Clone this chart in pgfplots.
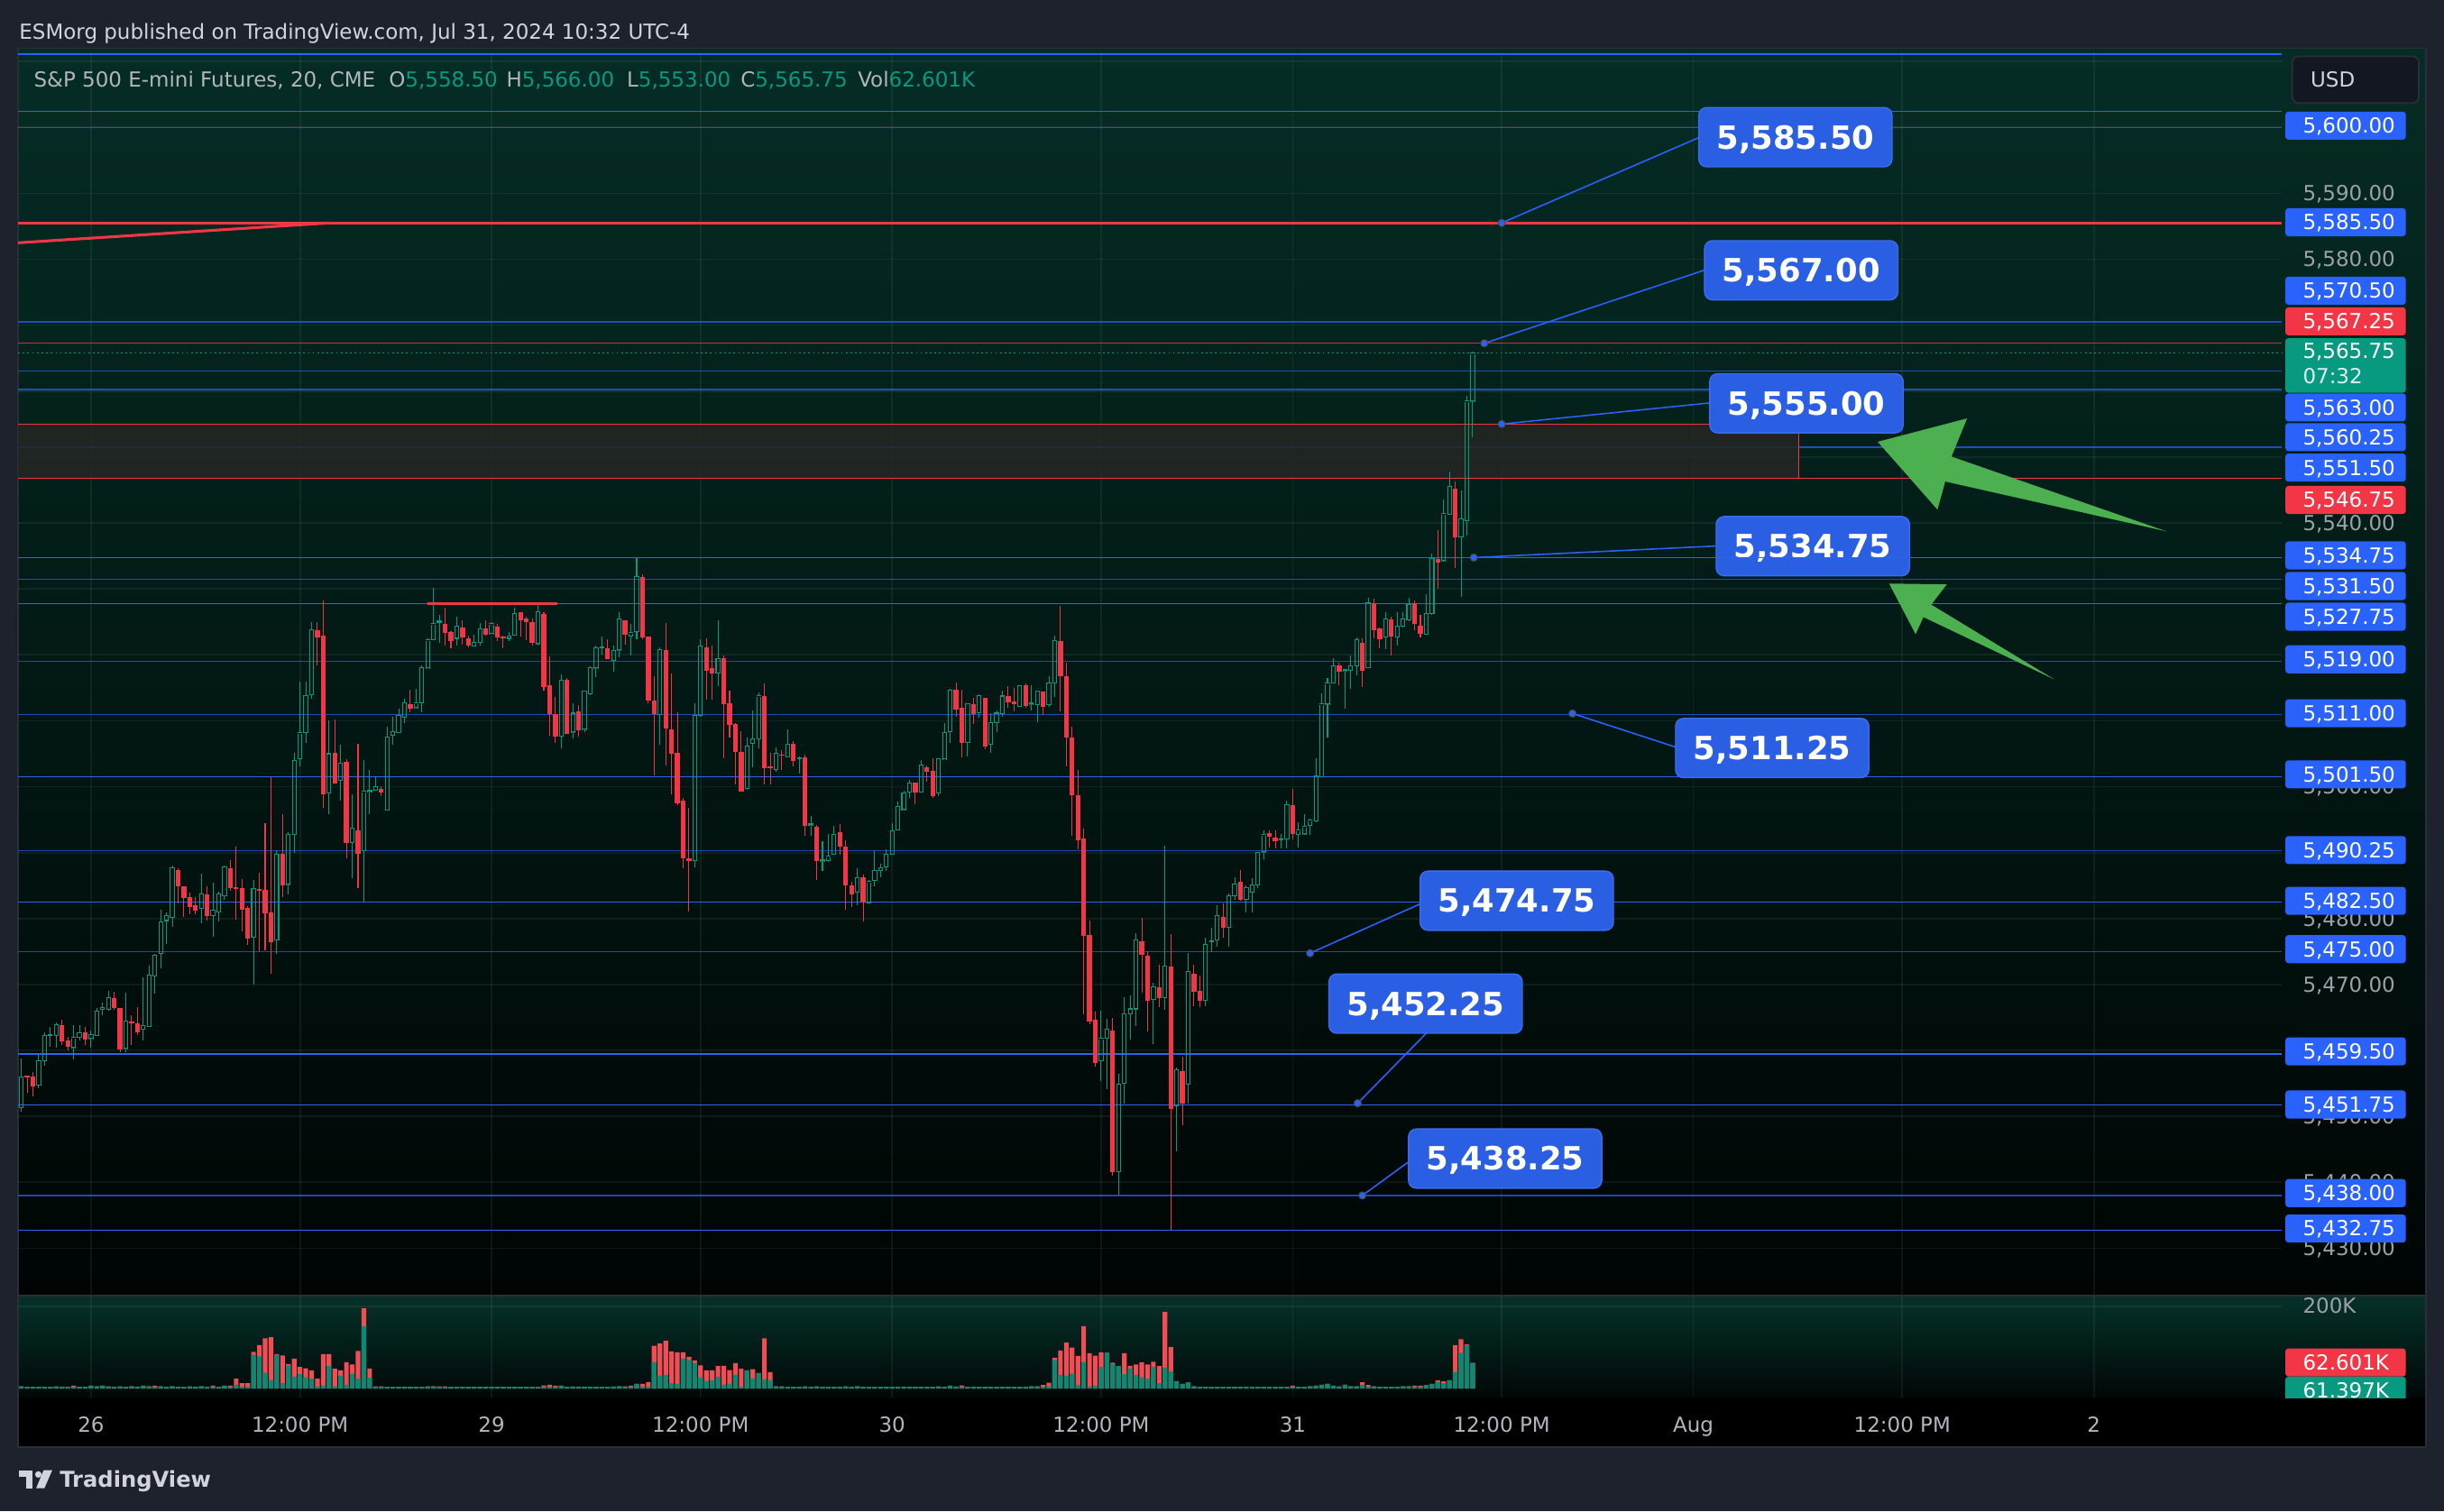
\documentclass[border=0pt]{standalone}
\usepackage{pgfplots}
\pgfplotsset{compat=1.18}
\usepackage{pgfplotstable}
\usepackage{fontspec}
\setmainfont{DejaVu Sans}
\definecolor{outerbg}{HTML}{1E222D}
\definecolor{framegray}{HTML}{2A2E39}
\definecolor{txtgray}{HTML}{D1D4DC}
\definecolor{lblgray}{HTML}{B2B5BE}
\definecolor{tickgray}{HTML}{9DA0A8}
\definecolor{cup}{HTML}{089981}
\definecolor{cdn}{HTML}{F23645}
\definecolor{tvblue}{HTML}{2962FF}
\definecolor{callbox}{HTML}{2B5FE3}
\definecolor{callrim}{HTML}{3A6EF0}
\definecolor{arrowgreen}{HTML}{4CAF50}
\definecolor{paneTop}{RGB}{5,45,37}
\definecolor{paneBot}{RGB}{0,5,4}
\definecolor{volTop}{RGB}{5,50,42}
\definecolor{volBot}{RGB}{1,8,7}
\definecolor{rectfill}{HTML}{262624}
\definecolor{vgreen}{HTML}{0B8A73}
\definecolor{vred}{HTML}{F24C55}
\definecolor{usdbox}{HTML}{131722}
\newcommand\uifont{\fontsize{6.65pt}{8pt}\selectfont}
\newcommand\cofont{\fontsize{10.25pt}{12pt}\selectfont\bfseries}

\pgfplotstableread{
x o h l c
-12 5451.3 5458.8 5450.7 5456.0
-9 5454.8 5459.5 5454.3 5458.5
-8 5458.5 5462.8 5457.7 5462.3
-7 5462.3 5463.6 5460.6 5462.4
-6 5462.3 5464.3 5460.4 5463.9
-3 5460.5 5463.8 5458.6 5462.0
-2 5462.0 5463.8 5461.5 5462.7
0 5461.8 5463.0 5460.4 5462.4
1 5462.3 5466.5 5462.3 5466.0
2 5466.2 5467.2 5465.4 5466.5
3 5466.2 5469.0 5466.1 5468.0
6 5460.3 5468.7 5459.8 5464.5
9 5463.2 5471.1 5461.5 5463.8
10 5463.6 5472.9 5463.6 5471.4
11 5471.3 5474.7 5468.6 5474.5
12 5474.7 5481.3 5472.4 5479.5
13 5479.7 5481.0 5476.1 5480.4
14 5480.2 5488.0 5478.8 5487.7
19 5481.6 5486.8 5479.3 5483.7
21 5480.4 5485.5 5477.2 5481.3
22 5481.0 5484.1 5479.6 5483.7
23 5483.5 5488.0 5482.9 5487.9
28 5477.2 5485.9 5470.0 5484.5
32 5476.8 5490.4 5474.6 5489.75
34 5485.2 5493.1 5483.6 5492.8
35 5492.8 5505.2 5489.9 5504.0
36 5504.3 5516.0 5503.1 5508.2
37 5508.2 5516.0 5506.7 5513.8
38 5513.9 5525.0 5513.3 5523.75
41 5499.1 5510.0 5495.9 5505.0
43 5500.9 5506.3 5497.9 5503.5
45 5491.5 5498.8 5486.1 5493.7
47 5490.35 5504.0 5482.6 5499.3
48 5499.3 5502.5 5495.9 5499.5
49 5499.45 5501.6 5499.45 5500.0
51 5496.45 5509.1 5496.45 5507.5
52 5507.8 5510.55 5506.4 5508.4
53 5508.2 5511.8 5508.2 5510.8
54 5510.5 5513.3 5509.6 5512.75
56 5512.0 5514.8 5511.8 5512.7
57 5512.75 5518.4 5511.3 5518.05
58 5518.0 5522.5 5518.0 5522.3
59 5522.3 5530.1 5522.3 5524.7
60 5524.95 5526.0 5521.8 5525.1
63 5522.5 5525.8 5521.4 5524.3
66 5521.4 5523.0 5521.4 5521.9
67 5521.9 5524.8 5521.4 5524.0
69 5523.2 5525.0 5523.2 5524.7
72 5522.5 5523.5 5522.1 5522.9
73 5523.0 5527.1 5523.0 5526.25
77 5521.7 5527.6 5521.4 5526.5
81 5507.7 5517.0 5505.8 5516.2
83 5508.3 5512.7 5507.3 5511.15
85 5508.7 5514.5 5508.3 5514.5
86 5514.1 5518.3 5513.9 5518.1
87 5518.0 5521.4 5516.6 5521.1
88 5521.1 5522.8 5520.0 5521.2
90 5519.2 5521.4 5517.5 5520.7
91 5520.8 5526.5 5519.6 5525.5
93 5522.9 5524.7 5519.9 5523.4
94 5523.5 5534.7 5522.3 5531.9
98 5511.0 5521.1 5506.4 5520.8
104 5488.8 5512.6 5487.8 5510.8
105 5510.8 5522.3 5510.6 5521.3
108 5517.2 5525.25 5515.3 5519.4
113 5499.7 5507.5 5499.5 5506.2
114 5506.55 5511.5 5502.9 5507.3
115 5507.3 5514.24 5505.8 5513.8
118 5502.6 5506.0 5502.3 5505.1
120 5504.5 5508.7 5504.5 5506.5
122 5504.3 5504.55 5502.05 5504.4
124 5494.3 5495.5 5492.6 5494.4
126 5488.8 5491.8 5487.2 5488.9
127 5488.85 5492.8 5488.6 5489.45
128 5489.75 5494.0 5489.75 5492.7
132 5484.0 5487.7 5482.0 5486.2
134 5482.4 5485.9 5482.25 5485.6
135 5485.75 5490.35 5484.85 5487.35
136 5487.25 5488.3 5486.2 5487.7
137 5487.9 5490.44 5487.2 5489.75
138 5489.75 5494.5 5489.75 5493.3
139 5493.4 5497.8 5493.4 5496.95
140 5496.6 5499.45 5496.4 5499.1
141 5499.2 5501.0 5498.3 5500.55
143 5499.2 5504.0 5499.2 5503.3
146 5499.0 5504.2 5498.6 5504.2
147 5504.2 5509.7 5504.2 5508.2
148 5508.4 5514.9 5506.7 5514.7
151 5506.7 5512.7 5504.6 5512.6
153 5511.2 5513.97 5510.4 5513.8
155 5506.5 5511.2 5505.1 5509.7
156 5509.7 5511.5 5508.3 5511.15
157 5511.1 5514.6 5510.6 5513.75
160 5512.2 5515.4 5512.05 5515.35
162 5512.6 5515.4 5511.5 5512.7
163 5512.5 5514.5 5509.8 5514.5
165 5512.5 5516.8 5512.05 5515.7
166 5515.7 5522.85 5513.6 5522.2
174 5458.5 5466.0 5455.3 5461.85
175 5461.85 5464.8 5454.1 5463.25
177 5441.6 5456.4 5438.1 5454.85
178 5455.05 5468.1 5451.9 5465.5
179 5465.5 5468.4 5461.65 5466.3
180 5466.3 5477.85 5463.75 5476.8
183 5467.75 5470.3 5461.0 5469.6
185 5468.0 5491.1 5466.1 5472.8
187 5451.55 5457.4 5444.7 5457.1
189 5454.85 5474.75 5451.9 5472.0
192 5467.6 5477.1 5466.7 5476.1
193 5476.5 5478.55 5474.9 5476.6
194 5476.8 5482.0 5475.8 5480.5
196 5478.7 5483.8 5475.7 5483.45
197 5483.45 5486.2 5482.8 5485.25
199 5482.9 5485.1 5481.0 5484.7
200 5484.0 5486.1 5481.0 5485.1
201 5485.1 5490.1 5484.6 5490.0
202 5490.15 5493.4 5489.0 5492.75
205 5492.0 5492.8 5490.6 5492.1
206 5492.1 5497.95 5490.6 5497.3
208 5492.8 5494.6 5490.8 5493.4
209 5492.9 5495.8 5492.65 5494.0
210 5494.1 5495.1 5492.65 5494.9
211 5494.8 5504.35 5494.6 5501.6
212 5501.5 5514.2 5501.5 5512.55
213 5512.55 5516.45 5507.4 5515.7
214 5515.7 5519.5 5515.7 5518.3
216 5517.7 5517.75 5511.9 5517.75
217 5517.6 5519.85 5514.8 5518.3
218 5518.3 5522.6 5516.9 5522.35
220 5518.1 5528.7 5518.1 5527.9
223 5522.7 5526.5 5520.9 5525.5
225 5522.7 5526.5 5521.45 5524.4
226 5524.4 5526.5 5524.1 5525.5
227 5525.35 5528.6 5525.1 5527.6
230 5523.1 5529.25 5523.1 5526.2
231 5526.2 5535.3 5526.1 5534.6
233 5534.3 5543.6 5534.2 5541.4
234 5541.25 5547.8 5541.25 5545.5
236 5537.9 5544.9 5528.8 5540.6
237 5540.4 5559.25 5538.1 5558.5
238 5558.5 5566.0 5553.0 5565.75
}\upT

\pgfplotstableread{
x o h l c
-11 5456.1 5456.2 5453.7 5456.0
-10 5456.1 5456.8 5453.1 5454.7
-5 5464.0 5464.8 5461.0 5461.5
-4 5461.5 5462.1 5460.1 5460.5
-1 5462.8 5463.6 5461.0 5461.8
4 5468.0 5469.0 5466.3 5466.5
5 5466.5 5466.5 5459.8 5460.2
7 5464.4 5465.4 5460.9 5464.2
8 5464.2 5466.6 5462.4 5462.9
15 5487.5 5487.7 5482.4 5485.0
16 5485.0 5485.0 5480.3 5483.2
17 5483.3 5484.1 5480.8 5481.9
18 5482.0 5483.2 5480.6 5481.2
20 5483.7 5485.0 5479.9 5480.4
24 5487.7 5488.8 5484.1 5484.7
25 5484.8 5491.0 5479.9 5484.6
26 5484.6 5486.1 5478.2 5481.3
27 5481.6 5482.0 5476.1 5477.0
29 5484.6 5487.0 5475.2 5484.3
30 5484.5 5494.5 5475.2 5481.0
31 5481.0 5501.6 5471.8 5476.5
33 5489.75 5495.8 5483.2 5485.0
39 5523.75 5525.0 5518.5 5522.75
40 5523.0 5528.3 5496.8 5499.0
42 5505.2 5510.3 5500.6 5500.6
44 5503.7 5504.3 5489.3 5491.5
46 5493.5 5506.6 5484.75 5490.0
50 5499.75 5500.1 5498.6 5499.3
55 5512.75 5514.8 5511.3 5512.0
61 5524.7 5527.2 5521.4 5523.4
62 5523.5 5523.8 5521.1 5522.2
64 5524.3 5525.3 5521.5 5522.75
65 5522.5 5522.9 5521.1 5521.4
68 5524.0 5525.35 5523.0 5523.1
70 5524.4 5524.8 5522.1 5522.75
71 5522.75 5523.0 5521.1 5522.5
74 5526.5 5526.5 5522.8 5525.25
75 5525.6 5525.9 5522.3 5525.0
76 5525.0 5525.6 5521.5 5521.8
78 5526.25 5526.5 5514.6 5515.2
79 5515.5 5519.8 5507.8 5511.0
80 5511.0 5513.6 5506.6 5507.7
82 5516.3 5516.6 5508.1 5508.1
84 5511.5 5512.4 5507.6 5508.6
89 5521.1 5522.3 5519.3 5519.4
92 5525.25 5525.25 5521.5 5523.1
95 5531.9 5532.3 5522.5 5522.7
96 5522.8 5522.8 5512.7 5513.15
97 5513.05 5516.8 5501.8 5511.0
99 5520.8 5525.0 5503.4 5508.95
100 5508.8 5517.2 5498.85 5505.1
101 5505.1 5511.2 5497.1 5497.4
102 5497.85 5498.5 5487.8 5489.2
103 5489.25 5496.8 5481.1 5488.8
106 5521.3 5522.6 5513.3 5517.75
107 5518.1 5521.5 5513.3 5517.2
109 5519.6 5519.9 5504.3 5512.6
110 5512.75 5514.7 5507.6 5509.5
111 5509.55 5509.8 5500.6 5505.4
112 5505.45 5508.5 5499.4 5499.4
116 5513.8 5515.7 5500.4 5502.95
117 5503.1 5505.2 5500.4 5503.0
119 5504.9 5505.5 5502.5 5504.8
121 5506.6 5507.0 5503.3 5503.9
123 5504.55 5504.8 5492.6 5494.2
125 5494.0 5494.3 5485.9 5488.75
129 5493.1 5494.3 5489.75 5490.9
130 5491.0 5491.95 5481.35 5485.2
131 5485.1 5485.6 5481.8 5483.7
133 5486.25 5486.8 5479.6 5482.4
142 5500.7 5500.7 5497.4 5499.2
144 5503.05 5503.3 5500.8 5502.4
145 5502.5 5504.2 5498.3 5498.7
149 5514.7 5515.7 5510.6 5511.7
150 5512.0 5514.8 5504.6 5506.7
152 5512.6 5513.5 5509.65 5511.1
154 5513.5 5513.5 5505.8 5506.2
158 5513.8 5515.35 5512.05 5512.9
159 5512.9 5515.0 5511.5 5512.5
161 5515.4 5515.7 5512.05 5512.2
164 5514.5 5514.5 5510.9 5512.2
167 5522.2 5527.5 5511.5 5516.9
168 5516.9 5519.0 5503.3 5507.5
169 5507.5 5509.1 5492.5 5498.8
170 5498.8 5502.7 5490.6 5491.9
171 5492.2 5493.7 5465.5 5477.4
172 5477.5 5479.8 5464.1 5464.4
173 5464.8 5466.0 5457.7 5458.15
176 5463.1 5465.1 5441.2 5441.6
181 5476.6 5480.1 5468.8 5474.55
182 5474.55 5475.3 5463.1 5467.75
184 5469.6 5473.1 5466.7 5468.0
186 5472.8 5477.6 5432.75 5451.2
188 5457.0 5459.1 5448.7 5452.0
190 5471.7 5473.0 5466.7 5469.0
191 5469.0 5471.5 5466.7 5467.6
195 5480.3 5482.4 5477.3 5478.7
198 5485.55 5487.45 5482.8 5482.8
203 5493.1 5493.4 5490.8 5492.5
204 5492.25 5493.4 5490.6 5491.7
207 5497.3 5499.7 5492.1 5492.9
215 5518.45 5518.95 5515.4 5517.45
219 5522.0 5522.6 5515.1 5517.7
221 5527.9 5528.7 5522.6 5523.85
222 5524.1 5524.3 5521.1 5522.45
224 5525.5 5525.8 5519.95 5522.85
228 5527.9 5528.3 5523.7 5524.7
229 5524.4 5526.25 5522.85 5523.3
232 5534.55 5539.1 5530.15 5534.0
235 5545.2 5546.4 5533.2 5537.9
}\dnT

\pgfplotstableread{
x t g
-12 5.8 5.8
-11 4.4 4.4
-10 4.4 4.4
-9 4.4 4.4
-8 4.4 4.4
-7 4.4 4.4
-6 5.8 4.4
-5 4.4 4.4
-4 4.4 4.4
-3 7.3 4.4
-2 4.4 4.4
-1 4.4 4.4
0 7.3 7.3
1 5.8 5.8
2 7.3 7.3
3 5.8 4.4
4 4.4 4.4
5 5.8 4.4
6 4.4 4.4
7 5.8 5.8
8 4.4 4.4
9 7.3 7.3
10 5.8 5.8
11 7.3 4.4
12 5.8 5.8
13 4.4 4.4
14 5.8 5.8
15 4.4 4.4
16 4.4 4.4
17 5.8 4.4
18 4.4 4.4
19 5.8 5.8
20 4.4 4.4
21 7.3 4.4
22 4.4 4.4
23 7.3 7.3
24 7.3 4.4
25 24.1 9.5
26 13.1 4.4
27 13.1 4.4
28 89.8 82.5
29 105.9 78.8
30 122.6 38.7
31 125.6 20.4
32 84.0 81.8
33 81.0 13.1
34 59.9 56.9
35 73.0 29.2
36 52.6 35.0
37 49.6 27.7
38 44.5 24.1
39 24.1 5.8
40 84.0 7.3
41 84.0 55.5
42 48.2 5.8
43 44.5 31.4
44 64.2 9.5
45 59.1 36.5
46 92.0 24.1
47 195.6 151.8
48 48.9 26.3
49 5.8 4.4
50 5.8 4.4
51 4.4 4.4
52 4.4 4.4
53 4.4 4.4
54 4.4 4.4
55 4.4 4.4
56 4.4 4.4
57 4.4 4.4
58 5.8 4.4
59 5.8 5.8
60 5.8 4.4
61 5.8 4.4
62 4.4 4.4
63 4.4 4.4
64 4.4 4.4
65 4.4 4.4
66 4.4 4.4
67 4.4 4.4
68 4.4 4.4
69 4.4 4.4
70 4.4 4.4
71 4.4 4.4
72 4.4 4.4
73 4.4 4.4
74 4.4 4.4
75 4.4 4.4
76 4.4 4.4
77 4.4 4.4
78 8.0 4.4
79 9.5 4.4
80 7.3 4.4
81 7.3 7.3
82 4.4 4.4
83 5.1 5.1
84 5.1 4.4
85 4.4 4.4
86 4.4 4.4
87 4.4 4.4
88 4.4 4.4
89 4.4 4.4
90 5.1 5.1
91 5.8 5.8
92 5.8 4.4
93 7.3 4.4
94 11.7 11.7
95 11.7 4.4
96 16.1 4.4
97 104.4 64.2
98 110.2 31.4
99 116.8 33.6
100 90.5 13.1
101 88.3 11.7
102 88.3 73.0
103 77.4 70.1
104 68.6 62.8
105 56.9 27.7
106 44.5 19.0
107 44.5 20.4
108 54.8 29.2
109 55.5 9.5
110 45.3 11.7
111 62.1 34.3
112 48.2 4.4
113 44.5 44.5
114 47.5 24.8
115 38.0 38.0
116 122.6 23.4
117 40.2 20.4
118 5.8 5.8
119 5.8 4.4
120 4.4 4.4
121 4.4 4.4
122 4.4 4.4
123 5.8 4.4
124 4.4 4.4
125 5.8 4.4
126 4.4 4.4
127 4.4 4.4
128 4.4 4.4
129 4.4 4.4
130 5.8 4.4
131 4.4 4.4
132 5.8 5.8
133 4.4 4.4
134 4.4 4.4
135 4.4 4.4
136 4.4 4.4
137 4.4 4.4
138 4.4 4.4
139 4.4 4.4
140 4.4 4.4
141 4.4 4.4
142 4.4 4.4
143 4.4 4.4
144 4.4 4.4
145 4.4 4.4
146 5.8 4.4
147 4.4 4.4
148 7.3 7.3
149 5.1 5.1
150 8.0 4.4
151 4.4 4.4
152 4.4 4.4
153 4.4 4.4
154 4.4 4.4
155 4.4 4.4
156 4.4 4.4
157 4.4 4.4
158 4.4 4.4
159 4.4 4.4
160 4.4 4.4
161 4.4 4.4
162 5.8 5.8
163 5.8 5.8
164 8.8 4.4
165 14.6 5.8
166 75.2 70.1
167 92.7 33.6
168 112.4 31.4
169 100.0 36.5
170 79.6 9.5
171 151.8 64.2
172 86.1 4.4
173 80.3 7.3
174 88.3 52.6
175 87.6 87.6
176 63.5 60.6
177 54.8 54.8
178 86.1 35.0
179 55.5 49.6
180 59.1 33.6
181 64.2 27.7
182 59.1 24.1
183 65.7 53.3
184 54.8 13.1
185 186.9 51.1
186 101.5 42.3
187 18.3 18.3
188 11.7 11.7
189 15.3 15.3
190 5.8 5.8
191 4.4 4.4
192 4.4 4.4
193 4.4 4.4
194 4.4 4.4
195 4.4 4.4
196 4.4 4.4
197 4.4 4.4
198 4.4 4.4
199 4.4 4.4
200 4.4 4.4
201 4.4 4.4
202 4.4 4.4
203 4.4 4.4
204 4.4 4.4
205 4.4 4.4
206 4.4 4.4
207 7.3 4.4
208 4.4 4.4
209 4.4 4.4
210 5.8 5.8
211 7.3 7.3
212 9.5 9.5
213 11.7 11.7
214 7.3 7.3
215 5.8 4.4
216 9.5 9.5
217 5.8 5.8
218 5.8 5.8
219 15.3 9.5
220 8.8 4.4
221 5.8 5.8
222 4.4 4.4
223 4.4 4.4
224 4.4 4.4
225 4.4 4.4
226 5.8 5.8
227 5.8 5.8
228 7.3 4.4
229 7.3 4.4
230 8.8 8.8
231 11.7 11.7
232 20.4 16.8
233 17.5 13.1
234 20.4 20.4
235 105.9 40.2
236 120.5 87.6
237 108.0 105.9
238 62.6 62.6
}\volT

\newcommand\plab[3]{%
  \node[fill=#1, rounded corners=1pt, minimum width=38.65pt, minimum height=9pt, inner sep=0pt] at (axis cs:388.37,#2) {};
  \node[anchor=west, font=\uifont, text=white, inner sep=0pt, text height=4.85pt, text depth=0pt] at (axis cs:380.9,#2) {#3};}
\newcommand\glab[2]{%
  \node[anchor=west, font=\uifont, text=tickgray, inner sep=0pt, text height=4.85pt, text depth=0pt] at (axis cs:380.9,#1) {#2};}
\newcommand\callout[7]{% box x, box y, text, dot x, dot y, end x, end y
  \draw[tvblue, line width=0.45pt] (axis cs:#4,#5) -- (axis cs:#6,#7);
  \filldraw[fill=tvblue, draw=black!70, line width=0.3pt] (axis cs:#4,#5) circle (1.15pt);
  \node[fill=callbox, draw=callrim, line width=0.4pt, rounded corners=2.5pt, minimum width=62pt, minimum height=19pt, inner sep=0pt, text=white, font=\cofont, text height=7.47pt, text depth=0pt] at (axis cs:#1,#2) {#3};}

\begin{document}
\begin{tikzpicture}
\useasboundingbox (0,0) rectangle (784pt,-485pt);
\begin{scope}[x=0.5pt,y=-0.5pt]
  \fill[outerbg] (0,0) rectangle (1568,970);
  \shade[top color=paneTop, bottom color=paneBot] (11.6,31) rectangle (1556.4,831);
  \shade[top color=volTop, bottom color=volBot] (11.6,831) rectangle (1556.4,897);
  \fill[black] (11.6,897) rectangle (1556.4,928.7);
  \draw[framegray, line width=0.5pt] (11.6,31) rectangle (1556.4,928.7);
\end{scope}

% ---------------- main price pane ----------------
\begin{axis}[
  at={(5.8pt,-415.5pt)}, anchor=south west, scale only axis,
  width=726.2pt, height=398.7pt,
  xmin=-12.56, xmax=377.4, ymin=5422.92, ymax=5611.37,
  clip=false,
  axis line style={draw=none},
  major tick length=0pt,
  xtick={0,36,69,105,138,174,207,243,276,312,345},
  ytick={5430,5440,...,5610},
  xticklabels={}, yticklabels={},
  grid=major, major grid style={white, opacity=0.06, line width=0.5pt},
]
% dim blue levels
\pgfplotsinvokeforeach{5600,5570.5,5563,5560.25,5551.5,5531.5,5519,5511,5490.25,5475,5438}{
  \draw[tvblue, opacity=0.7, line width=0.35pt] (axis cs:-12.56,#1) -- (axis cs:377.4,#1);}
% bright blue levels
\pgfplotsinvokeforeach{5611.1,5602.4,5534.75,5527.75,5501.5,5482.5,5459.5,5451.75,5432.75}{
  \draw[tvblue, line width=0.45pt] (axis cs:-12.56,#1) -- (axis cs:377.4,#1);}
% red levels
\draw[cdn, line width=0.95pt] (axis cs:-12.56,5585.5) -- (axis cs:377.4,5585.5);
\draw[cdn, line width=0.9pt] (axis cs:-12.56,5582.49) -- (axis cs:41.0,5585.5);
\draw[cdn, opacity=0.8, line width=0.3pt] (axis cs:-12.56,5567.25) -- (axis cs:377.4,5567.25);
\draw[cdn, line width=0.8pt] (axis cs:57.9,5527.75) -- (axis cs:80.3,5527.75);
% zone rectangle
\fill[rectfill, opacity=0.85] (axis cs:-12.56,5546.75) rectangle (axis cs:294.2,5555);
\draw[cdn, line width=0.45pt] (axis cs:-12.56,5555) -- (axis cs:294.2,5555) -- (axis cs:294.2,5546.75);
\draw[cdn, line width=0.45pt] (axis cs:-12.56,5546.75) -- (axis cs:377.4,5546.75);

% ---- down candles: wick + filled body ----
\addplot[forget plot, draw=none, mark=none, error bars/.cd, y dir=both, y explicit, error mark=none,
  error bar style={line width=0.3pt, draw=cdn}]
  table[x=x, y expr=(\thisrow{h}+\thisrow{l})/2, y error expr=(\thisrow{h}-\thisrow{l})/2] {\dnT};
\addplot[forget plot, draw=none, mark=none, error bars/.cd, y dir=both, y explicit, error mark=none,
  error bar style={line width=1.527pt, draw=cdn}]
  table[x=x, y expr=(\thisrow{o}+\thisrow{c})/2, y error expr={max((\thisrow{o}-\thisrow{c})/2,0.12)}] {\dnT};
% ---- up candles: hollow ----
\addplot[forget plot, draw=none, mark=none, error bars/.cd, y dir=plus, y explicit, error mark=none,
  error bar style={line width=0.3pt, draw=cup}]
  table[x=x, y=c, y error expr=\thisrow{h}-\thisrow{c}] {\upT};
\addplot[forget plot, draw=none, mark=none, error bars/.cd, y dir=minus, y explicit, error mark=none,
  error bar style={line width=0.3pt, draw=cup}]
  table[x=x, y=o, y error expr=\thisrow{o}-\thisrow{l}] {\upT};
\addplot[forget plot, draw=none, mark=none, error bars/.cd, y dir=both, y explicit, error mark=none,
  error bar style={line width=0.3pt, draw=cup}]
  table[x expr=\thisrow{x}-0.3296, y expr=(\thisrow{o}+\thisrow{c})/2, y error expr=(\thisrow{c}-\thisrow{o})/2] {\upT};
\addplot[forget plot, draw=none, mark=none, error bars/.cd, y dir=both, y explicit, error mark=none,
  error bar style={line width=0.3pt, draw=cup}]
  table[x expr=\thisrow{x}+0.3296, y expr=(\thisrow{o}+\thisrow{c})/2, y error expr=(\thisrow{c}-\thisrow{o})/2] {\upT};
\addplot[forget plot, only marks, mark=-, mark size=0.764pt, mark options={draw=cup, line width=0.3pt, solid}]
  table[x=x, y=o] {\upT};
\addplot[forget plot, only marks, mark=-, mark size=0.764pt, mark options={draw=cup, line width=0.3pt, solid}]
  table[x=x, y=c] {\upT};

% current price line
\draw[cup, line width=0.4pt, dash pattern=on 0.5pt off 1pt] (axis cs:-12.56,5565.75) -- (axis cs:377.4,5565.75);

% callouts
\callout{293.6}{5598.51}{5,585.50}{243}{5585.5}{277.0}{5598.46}
\callout{294.6}{5578.32}{5,567.00}{240}{5567.25}{277.9}{5578.33}
\callout{295.5}{5558.15}{5,555.00}{243}{5555}{278.8}{5558.2}
\callout{296.6}{5536.48}{5,534.75}{238.2}{5534.75}{279.9}{5536.5}
\callout{289.6}{5505.87}{5,511.25}{255.2}{5511.1}{273.0}{5506.0}
\callout{245.6}{5482.71}{5,474.75}{210}{5474.75}{228.9}{5482.2}
\callout{229.9}{5467.1}{5,452.25}{218.2}{5452.0}{230.0}{5462.6}
\callout{243.6}{5443.6}{5,438.25}{219}{5438.0}{227.1}{5443.2}
\draw[tvblue, line width=0.45pt] (axis cs:279.9,5534.75) -- (axis cs:313.3,5534.75);

% price scale labels
\glab{5590}{5,590.00}
\glab{5580}{5,580.00}
\glab{5540}{5,540.00}
\glab{5500}{5,500.00}
\glab{5480}{5,480.00}
\glab{5470}{5,470.00}
\glab{5450}{5,450.00}
\glab{5440}{5,440.00}
\glab{5430}{5,430.00}
\plab{tvblue}{5600.26}{5,600.00}
\plab{tvblue}{5585.61}{5,585.50}
\plab{tvblue}{5575.23}{5,570.50}
\plab{cdn}{5570.58}{5,567.25}
\node[fill=cup, rounded corners=1pt, minimum width=38.65pt, minimum height=17.5pt, inner sep=0pt] at (axis cs:388.37,5563.89) {};
\node[anchor=west, font=\uifont, text=white, inner sep=0pt, text height=4.85pt, text depth=0pt] at (axis cs:380.9,5566.09) {5,565.75};
\node[anchor=west, font=\uifont, text=white!85!cup, inner sep=0pt, text height=4.85pt, text depth=0pt] at (axis cs:380.9,5562.28) {07:32};
\plab{tvblue}{5557.53}{5,563.00}
\plab{tvblue}{5553.02}{5,560.25}
\plab{tvblue}{5548.39}{5,551.50}
\plab{cdn}{5543.49}{5,546.75}
\plab{tvblue}{5535.08}{5,534.75}
\plab{tvblue}{5530.43}{5,531.50}
\plab{tvblue}{5525.79}{5,527.75}
\plab{tvblue}{5519.32}{5,519.00}
\plab{tvblue}{5511.14}{5,511.00}
\plab{tvblue}{5501.88}{5,501.50}
\plab{tvblue}{5490.39}{5,490.25}
\plab{tvblue}{5482.69}{5,482.50}
\plab{tvblue}{5475.36}{5,475.00}
\plab{tvblue}{5459.86}{5,459.50}
\plab{tvblue}{5451.80}{5,451.75}
\plab{tvblue}{5438.37}{5,438.00}
\plab{tvblue}{5432.99}{5,432.75}
\end{axis}

% ---------------- volume pane ----------------
\begin{axis}[
  at={(5.8pt,-448.5pt)}, anchor=south west, scale only axis,
  width=726.2pt, height=32.7pt,
  xmin=-12.56, xmax=377.4, ymin=-22.4, ymax=226.2,
  clip=false,
  axis line style={draw=none},
  major tick length=0pt,
  xtick={0,36,69,105,138,174,207,243,276,312,345},
  xticklabels={26,12:00 PM,29,12:00 PM,30,12:00 PM,31,12:00 PM,Aug,12:00 PM,2},
  xticklabel style={font=\uifont, text=lblgray, anchor=center, yshift=-8.5pt, text height=4.85pt, text depth=0pt},
  ytick={200}, yticklabels={},
  grid=major, major grid style={white, opacity=0.06, line width=0.5pt},
]
\addplot[forget plot, ybar, bar width=0.8, bar shift=0pt, fill=vred, draw=none] table[x=x, y=t] {\volT};
\addplot[forget plot, ybar, bar width=0.8, bar shift=0pt, fill=vgreen, draw=none] table[x=x, y=g] {\volT};
\node[anchor=west, font=\uifont, text=tickgray, inner sep=0pt, text height=4.85pt, text depth=0pt] at (axis cs:380.9,203) {200K};
\plab{cdn}{63.8}{62.601K}
\plab{cup}{-5.2}{61.397K}
\end{axis}

\begin{scope}[x=0.5pt,y=-0.5pt]
  % cover the bottom of the lowest volume label with the time strip
  \fill[black] (1464,897.5) rectangle (1556,928.2);
  % separator between panes
  \draw[framegray, line width=0.6pt] (11.6,831.3) -- (1556.4,831.3);
  % header
  \node[anchor=base west, inner sep=0pt, font=\uifont, text=txtgray] at (12,25.1)
    {ESMorg published on TradingView.com, Jul 31, 2024 10:32 UTC-4};
  % legend row
  \node[anchor=base west, inner sep=0pt, font=\uifont, text=lblgray] at (21.3,55.9) {S\&P 500 E-mini Futures, 20, CME};
  \node[anchor=base west, inner sep=0pt, font=\uifont, text=lblgray] at (249.2,55.9) {O\textcolor{cup}{5,558.50}};
  \node[anchor=base west, inner sep=0pt, font=\uifont, text=lblgray] at (324.5,55.9) {H\textcolor{cup}{5,566.00}};
  \node[anchor=base west, inner sep=0pt, font=\uifont, text=lblgray] at (401.8,55.9) {L\textcolor{cup}{5,553.00}};
  \node[anchor=base west, inner sep=0pt, font=\uifont, text=lblgray] at (474.8,55.9) {C\textcolor{cup}{5,565.75}};
  \node[anchor=base west, inner sep=0pt, font=\uifont, text=lblgray] at (550,55.9) {Vol\textcolor{cup}{62.601K}};
  % USD box
  \draw[fill=usdbox, draw=framegray, line width=0.5pt, rounded corners=2pt] (1470.6,36.2) rectangle (1551.8,66.1);
  \node[anchor=west, inner sep=0pt, font=\uifont, text=txtgray, text height=4.85pt, text depth=0pt] at (1482,51.2) {USD};
  % green arrows
  \fill[arrowgreen] (1204.7,283.5) -- (1262,268.5) -- (1252,293) -- (1390,341) -- (1248,309) -- (1243,327) -- cycle;
  \fill[arrowgreen] (1212,374.5) -- (1249,375) -- (1239,388) -- (1318,436) -- (1234,396) -- (1229,407) -- cycle;
  % TradingView logo
  \fill[txtgray] (12,943.5) rectangle (21,947.5);
  \fill[txtgray] (16.5,943.5) rectangle (21,955);
  \fill[txtgray] (24.6,946.2) circle (2.1);
  \fill[txtgray] (28,943.5) -- (33.5,943.5) -- (28.5,955) -- (23.2,955) -- cycle;
  \node[anchor=base west, inner sep=0pt, font=\fontsize{7pt}{8pt}\selectfont\bfseries, text=txtgray] at (38,954.5) {TradingView};
\end{scope}
\end{tikzpicture}
\end{document}
